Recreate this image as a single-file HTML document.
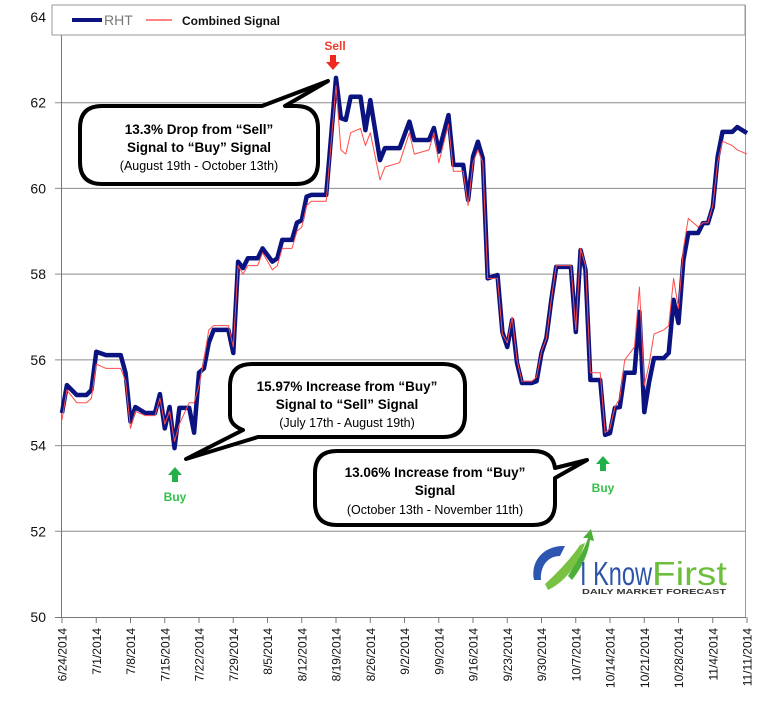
<!DOCTYPE html>
<html><head><meta charset="utf-8"><style>
body{margin:0;background:#fff;}
svg{display:block;font-family:"Liberation Sans",Arial,sans-serif;}
</style></head><body>
<svg id="chart" width="767" height="714" viewBox="0 0 767 714">
<rect x="0" y="0" width="767" height="714" fill="#fff"/>
<g id="grid"></g>
<g id="yaxis"></g>
<g id="xaxis"></g>
<g id="series"></g>
<g>
<rect x="52" y="5" width="693" height="30" fill="#fff" stroke="#999" stroke-width="1"/>
<line x1="72" y1="20" x2="102" y2="20" stroke="#0a1380" stroke-width="4"/>
<text x="104" y="25" font-size="14" fill="#777">RHT</text>
<line x1="146" y1="20" x2="172" y2="20" stroke="#ff5a5a" stroke-width="1.5"/>
<text x="182" y="25" font-size="12" font-weight="bold" fill="#111">Combined Signal</text>
</g>
<g>
<path d="M102,106 L262,106 L328,81 L285,106 L296,106 Q318,106 318,128 L318,162 Q318,184 296,184 L102,184 Q80,184 80,162 L80,128 Q80,106 102,106 Z" fill="#fff" stroke="#000" stroke-width="4" stroke-linejoin="round"/>
<text x="199" y="134" font-size="13.5" font-weight="bold" text-anchor="middle">13.3% Drop from “Sell”</text>
<text x="199" y="152" font-size="13.5" font-weight="bold" text-anchor="middle">Signal to “Buy” Signal</text>
<text x="199" y="170" font-size="12.5" text-anchor="middle">(August 19th - October 13th)</text>
</g>
<g>
<path d="M252,364 L443,364 Q465,364 465,386 L465,415 Q465,437 443,437 L258,437 L186,459 L243,430 Q230,425 230,415 L230,386 Q230,364 252,364 Z" fill="#fff" stroke="#000" stroke-width="4" stroke-linejoin="round"/>
<text x="347" y="391" font-size="13.5" font-weight="bold" text-anchor="middle">15.97% Increase from “Buy”</text>
<text x="347" y="409" font-size="13.5" font-weight="bold" text-anchor="middle">Signal to “Sell” Signal</text>
<text x="347" y="427" font-size="12.5" text-anchor="middle">(July 17th - August 19th)</text>
</g>
<g>
<path d="M337,451 L533,451 Q553,451 555,468 L587,460 L555,478 L555,503 Q555,525 533,525 L337,525 Q315,525 315,503 L315,473 Q315,451 337,451 Z" fill="#fff" stroke="#000" stroke-width="4" stroke-linejoin="round"/>
<text x="435" y="477" font-size="13.5" font-weight="bold" text-anchor="middle">13.06% Increase from “Buy”</text>
<text x="435" y="495" font-size="13.5" font-weight="bold" text-anchor="middle">Signal</text>
<text x="435" y="514" font-size="12.5" text-anchor="middle">(October 13th - November 11th)</text>
</g>
<g>
<text x="335" y="50" font-size="12" font-weight="bold" fill="#f03c2a" text-anchor="middle">Sell</text>
<path d="M330,55 L336,55 L336,62 L340,62 L333,70 L326,62 L330,62 Z" fill="#f0281e"/>
</g>
<g>
<path d="M172,482 L178,482 L178,475 L182,475 L175,467 L168,475 L172,475 Z" fill="#22b04a"/>
<text x="175" y="501" font-size="12" font-weight="bold" fill="#33c04a" text-anchor="middle">Buy</text>
</g>
<g>
<path d="M600,471 L606,471 L606,464 L610,464 L603,456 L596,464 L600,464 Z" fill="#22b04a"/>
<text x="603" y="492" font-size="12" font-weight="bold" fill="#33c04a" text-anchor="middle">Buy</text>
</g>
<g>
<path d="M534,580 C530,560 545,545 565,546 L560,556 C548,556 540,566 541,580 Z" fill="#2c56b0"/>
<path d="M545,584 C555,575 570,560 580,545 L585,543 C578,565 565,582 548,590 Z" fill="#79c142"/>
<path d="M568,576 C578,560 585,548 588,538 L583,538 L591,529 L594,541 L590,540 C588,556 580,570 572,580 Z" fill="#4caf3a"/>
<text x="580" y="585" font-size="33" fill="#2d54a8" textLength="72" lengthAdjust="spacingAndGlyphs">I Know</text>
<text x="652" y="585" font-size="33" fill="#6cbf3c" textLength="75" lengthAdjust="spacingAndGlyphs">First</text>
<text x="582" y="594" font-size="7" font-weight="bold" fill="#333" textLength="144" lengthAdjust="spacingAndGlyphs">DAILY MARKET FORECAST</text>
</g>
</svg>
<script>
var yTicks = [50,52,54,56,58,60,62,64];
var xLabels = ["6/24/2014","7/1/2014","7/8/2014","7/15/2014","7/22/2014","7/29/2014","8/5/2014","8/12/2014","8/19/2014","8/26/2014","9/2/2014","9/9/2014","9/16/2014","9/23/2014","9/30/2014","10/7/2014","10/14/2014","10/21/2014","10/28/2014","11/4/2014","11/11/2014"];
var days = [0,1,3,5,6,7,9,12,13,14,15,17,19,20,21,22,23,24,26,27,28,29,30,31,34,35,36,37,38,40,41,43,44,45,47,48,49,50,51,54,56,57,58,59,61,62,63,65,66,69,71,72,75,76,77,79,80,82,83,84,85,86,87,89,90,91,92,93,94,96,97,98,99,100,101,104,105,106,107,108,110,111,112,113,114,115,117,118,119,120,121,123,124,125,126,127,128,130,131,132,133,134,135,137,138,140];
var rht = [54.76,55.41,55.18,55.18,55.3,56.19,56.11,56.11,55.69,54.56,54.9,54.76,54.76,55.2,54.4,54.9,53.94,54.88,54.88,54.3,55.7,55.8,56.4,56.7,56.7,56.16,58.29,58.14,58.37,58.37,58.6,58.29,58.37,58.8,58.8,59.2,59.26,59.81,59.85,59.85,62.58,61.64,61.6,62.14,62.14,61.36,62.06,60.66,60.94,60.94,61.56,61.13,61.13,61.41,60.86,61.71,60.55,60.55,59.73,60.74,61.09,60.7,57.9,57.98,56.65,56.3,56.93,55.93,55.46,55.46,55.5,56.16,56.51,57.4,58.17,58.17,56.65,58.56,58.1,55.53,55.53,54.25,54.29,54.88,54.9,55.7,55.7,57.12,54.78,55.48,56.04,56.04,56.16,57.4,56.86,58.33,58.96,58.96,59.19,59.19,59.57,60.73,61.32,61.32,61.43,61.29];
var signal = [54.6,55.3,55.0,55.0,55.1,55.9,55.8,55.8,55.5,54.4,54.8,54.7,54.7,55.1,54.5,54.8,54.1,54.5,55.0,55.0,55.4,56.0,56.7,56.8,56.8,56.3,58.2,58.0,58.2,58.2,58.5,58.1,58.2,58.6,58.6,59.0,59.1,59.6,59.7,59.7,62.4,60.9,60.8,61.3,61.4,61.0,61.3,60.2,60.5,60.6,61.3,60.8,60.9,61.3,60.6,61.5,60.4,60.4,59.6,60.6,60.9,60.6,57.9,57.9,56.6,56.4,57.0,56.0,55.5,55.5,55.6,56.2,56.5,57.4,58.2,58.2,56.7,58.6,58.2,55.7,55.7,54.3,54.4,54.9,55.1,56.0,56.3,57.7,55.4,55.9,56.6,56.7,56.8,57.9,57.2,58.6,59.3,59.1,59.2,59.2,59.6,60.6,61.1,61.0,60.9,60.8];

var NS = "http://www.w3.org/2000/svg";
var X0 = 62, X1 = 747, Y0 = 617, Y1 = 17, DMAX = 140, VMIN = 50, VMAX = 64;
function xs(d){ return X0 + (d / DMAX) * (X1 - X0); }
function ys(v){ return Y0 - (v - VMIN) / (VMAX - VMIN) * (Y0 - Y1); }
function mk(tag, attrs, parent){ var e = document.createElementNS(NS, tag); for (var k in attrs) e.setAttribute(k, attrs[k]); parent.appendChild(e); return e; }

var grid = document.getElementById('grid'), ya = document.getElementById('yaxis'), xa = document.getElementById('xaxis'), ser = document.getElementById('series');
yTicks.forEach(function(t){
  var y = ys(t);
  if (t > VMIN && t < VMAX) {
    var g = mk('line', {x1: 55, x2: 745, y1: y, y2: y, stroke: '#8a8a8a', 'stroke-width': 1}, grid);
    
    
  }
  var tl = mk('text', {x: 46, y: y + 5, 'font-size': 14, 'text-anchor': 'end', fill: '#111'}, ya);
  tl.textContent = t;
  
  
});
var ax = mk('line', {x1: 61.5, x2: 61.5, y1: 35, y2: 617, stroke: '#777', 'stroke-width': 1}, ya);


var rb = mk('line', {x1: 745.5, x2: 745.5, y1: 5, y2: 617, stroke: '#999', 'stroke-width': 1}, ya);


var xl = mk('line', {x1: 55, x2: 746, y1: 617.5, y2: 617.5, stroke: '#777', 'stroke-width': 1}, xa);


xLabels.forEach(function(lab, i){
  var x = xs(i * 7);
  var tk = mk('line', {x1: x, x2: x, y1: 617, y2: 623, stroke: '#777', 'stroke-width': 1}, xa);
  
  
  var t = mk('text', {x: 0, y: 0, 'font-size': 12, 'text-anchor': 'end', fill: '#111', transform: 'translate(' + (x + 4.5) + ',628) rotate(-90)'}, xa);
  t.textContent = lab;
  
  
});
function pts(vals){ return days.map(function(d, i){ return xs(d).toFixed(1) + ',' + ys(vals[i]).toFixed(1); }).join(' '); }
var l1 = mk('polyline', {points: pts(rht), fill: 'none', stroke: '#0a1380', 'stroke-width': 4.5, 'stroke-linejoin': 'round'}, ser);


var l2 = mk('polyline', {points: pts(signal), fill: 'none', stroke: '#ff4a4a', 'stroke-width': 1, 'stroke-linejoin': 'round'}, ser);


</script>
</body></html>
